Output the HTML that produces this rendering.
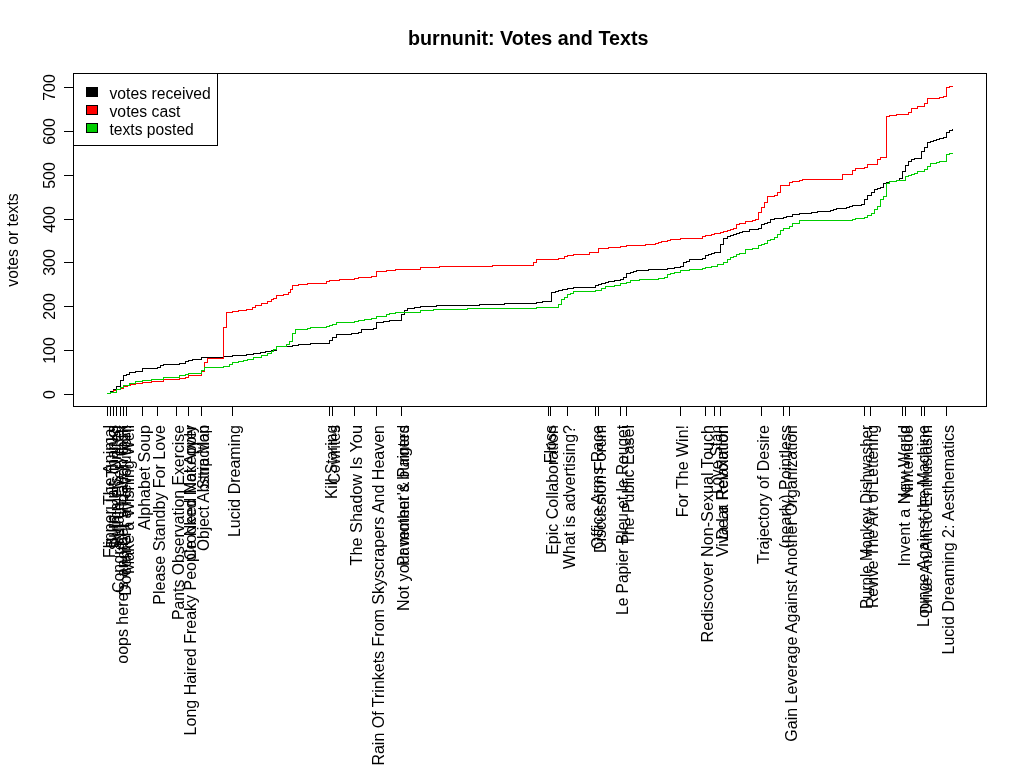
<!DOCTYPE html>
<html><head><meta charset="utf-8"><title>burnunit: Votes and Texts</title>
<style>
html,body{margin:0;padding:0;background:#fff;}
body{width:1024px;height:768px;overflow:hidden;}
svg{display:block;font-family:"Liberation Sans",Arial,sans-serif;}
.ax{stroke:#000;stroke-width:1;fill:none;shape-rendering:crispEdges;}
.ln{stroke-width:1;fill:none;shape-rendering:crispEdges;}
text{fill:#000;font-size:16px;}
</style></head><body>
<svg width="1024" height="768" viewBox="0 0 1024 768">
<rect x="0" y="0" width="1024" height="768" fill="#fff"/>
<text x="408" y="45" textLength="240.5" lengthAdjust="spacingAndGlyphs" style="font-size:19.4px;font-weight:bold">burnunit: Votes and Texts</text>
<text transform="translate(18,240) rotate(-90)" text-anchor="middle" textLength="93.3" lengthAdjust="spacingAndGlyphs">votes or texts</text>
<path class="ln" stroke="#000000" d="M107,393.5H110.5V391.5H113.5V389.5H116.5V386.5H120.5V380.5H123.5V375.5H126.5V374.5H129.5V372.5H135.5V371.5H142.5V368.5H157.5V367.5H160.5V365.5H163.5V364.5H179.5V363.5H185.5V361.5H188.5V360.5H192.5V359.5H201.5V357.5H223.5V356.5H232.5V355.5H246.5V354.5H253.5V353.5H260.5V352.5H265.5V351.5H271.5V350.5H276.5V346.5H292.5V345.5H298.5V344.5H310.5V343.5H329.5V340.5H332.5V337.5H336.5V334.5H351.5V333.5H358.5V332.5H361.5V329.5H373.5V328.5H376.5V322.5H383.5V321.5H389.5V320.5H401.5V314.5H404.5V310.5H407.5V308.5H414.5V307.5H420.5V306.5H436.5V305.5H479.5V304.5H504.5V303.5H536.5V302.5H542.5V301.5H551.5V292.5H555.5V291.5H558.5V290.5H562.5V289.5H567.5V288.5H573.5V287.5H595.5V285.5H598.5V284.5H601.5V283.5H605.5V282.5H608.5V281.5H614.5V280.5H620.5V279.5H623.5V277.5H626.5V273.5H630.5V272.5H633.5V271.5H636.5V270.5H648.5V269.5H667.5V268.5H674.5V267.5H680.5V266.5H683.5V262.5H686.5V261.5H689.5V259.5H702.5V258.5H705.5V255.5H708.5V254.5H711.5V253.5H714.5V252.5H720.5V244.5H723.5V238.5H727.5V236.5H730.5V235.5H733.5V234.5H736.5V233.5H739.5V232.5H742.5V231.5H749.5V229.5H758.5V228.5H761.5V224.5H764.5V223.5H767.5V222.5H770.5V219.5H774.5V218.5H783.5V217.5H786.5V216.5H792.5V214.5H799.5V213.5H811.5V212.5H817.5V211.5H830.5V210.5H833.5V209.5H836.5V208.5H846.5V207.5H849.5V206.5H852.5V205.5H861.5V204.5H864.5V199.5H867.5V195.5H871.5V192.5H874.5V189.5H877.5V188.5H880.5V187.5H883.5V183.5H886.5V182.5H889.5V181.5H896.5V180.5H899.5V178.5H902.5V171.5H905.5V165.5H908.5V161.5H911.5V159.5H914.5V158.5H921.5V151.5H924.5V147.5H927.5V142.5H930.5V141.5H933.5V140.5H936.5V139.5H939.5V138.5H943.5V137.5H946.5V132.5H949.5V130.5H952.5V128.5"/>
<path class="ln" stroke="#ff0000" d="M107,393.5H110.5V392.5H113.5V390.5H116.5V389.5H120.5V388.5H123.5V386.5H127.5V385.5H130.5V384.5H135.5V383.5H142.5V382.5H151.5V381.5H163.5V379.5H179.5V378.5H185.5V377.5H188.5V375.5H201.5V371.5H204.5V362.5H207.5V358.5H223.5V327.5H226.5V312.5H232.5V311.5H238.5V310.5H246.5V309.5H252.5V307.5H255.5V305.5H261.5V303.5H267.5V301.5H271.5V299.5H273.5V298.5H276.5V295.5H283.5V294.5H288.5V292.5H290.5V289.5H292.5V285.5H298.5V284.5H307.5V283.5H326.5V281.5H329.5V280.5H339.5V279.5H354.5V278.5H358.5V277.5H371.5V276.5H376.5V271.5H386.5V270.5H395.5V269.5H420.5V267.5H439.5V266.5H492.5V265.5H533.5V262.5H536.5V259.5H558.5V258.5H564.5V256.5H567.5V255.5H573.5V254.5H589.5V252.5H598.5V248.5H608.5V247.5H620.5V246.5H626.5V245.5H645.5V244.5H655.5V243.5H658.5V242.5H661.5V241.5H667.5V240.5H670.5V239.5H680.5V238.5H702.5V236.5H705.5V235.5H711.5V234.5H714.5V233.5H720.5V232.5H723.5V231.5H727.5V230.5H730.5V229.5H733.5V228.5H736.5V224.5H739.5V223.5H745.5V221.5H752.5V220.5H755.5V219.5H758.5V212.5H761.5V207.5H764.5V202.5H767.5V196.5H774.5V195.5H777.5V192.5H780.5V185.5H789.5V182.5H792.5V181.5H799.5V180.5H802.5V179.5H842.5V174.5H852.5V170.5H855.5V168.5H864.5V167.5H867.5V164.5H877.5V159.5H880.5V157.5H886.5V116.5H889.5V115.5H896.5V114.5H908.5V112.5H911.5V108.5H917.5V106.5H924.5V103.5H927.5V98.5H939.5V97.5H943.5V96.5H946.5V87.5H949.5V86.5H952.5V86.5"/>
<path class="ln" stroke="#00cd00" d="M107,393.5H110.5V392.5H116.5V389.5H120.5V387.5H123.5V385.5H129.5V383.5H135.5V381.5H142.5V380.5H151.5V379.5H163.5V377.5H179.5V375.5H185.5V374.5H188.5V373.5H201.5V370.5H204.5V367.5H223.5V366.5H229.5V364.5H232.5V362.5H238.5V361.5H243.5V360.5H247.5V359.5H253.5V357.5H261.5V355.5H267.5V353.5H271.5V351.5H273.5V349.5H276.5V346.5H286.5V344.5H289.5V341.5H292.5V333.5H295.5V329.5H307.5V328.5H310.5V327.5H326.5V326.5H329.5V325.5H332.5V324.5H336.5V322.5H354.5V321.5H358.5V320.5H364.5V319.5H371.5V318.5H376.5V316.5H386.5V314.5H389.5V313.5H395.5V312.5H420.5V310.5H433.5V309.5H467.5V308.5H536.5V307.5H558.5V304.5H561.5V299.5H564.5V297.5H567.5V294.5H570.5V293.5H573.5V291.5H595.5V290.5H601.5V288.5H605.5V286.5H614.5V285.5H620.5V283.5H626.5V282.5H630.5V280.5H639.5V279.5H658.5V278.5H664.5V277.5H667.5V274.5H670.5V273.5H674.5V272.5H680.5V270.5H689.5V269.5H702.5V268.5H705.5V267.5H711.5V266.5H717.5V264.5H723.5V262.5H727.5V259.5H730.5V257.5H733.5V256.5H736.5V254.5H739.5V253.5H745.5V249.5H752.5V248.5H758.5V245.5H761.5V244.5H764.5V243.5H767.5V240.5H770.5V239.5H774.5V237.5H777.5V234.5H780.5V230.5H783.5V228.5H789.5V226.5H792.5V223.5H799.5V220.5H852.5V219.5H855.5V218.5H864.5V217.5H867.5V215.5H871.5V213.5H874.5V209.5H877.5V206.5H880.5V199.5H883.5V196.5H886.5V183.5H889.5V181.5H896.5V180.5H905.5V176.5H908.5V175.5H911.5V174.5H914.5V173.5H917.5V171.5H924.5V169.5H927.5V166.5H930.5V163.5H936.5V162.5H939.5V161.5H946.5V154.5H949.5V153.5H952.5V153.5"/>
<rect class="ax" x="73.5" y="73.5" width="913" height="333"/>
<path class="ax" d="M64,394.5 H73.5M64,350.5 H73.5M64,306.5 H73.5M64,262.5 H73.5M64,219.5 H73.5M64,175.5 H73.5M64,131.5 H73.5M64,87.5 H73.5"/>
<text transform="translate(54.5,394.5) rotate(-90)" text-anchor="middle">0</text>
<text transform="translate(54.5,350.5) rotate(-90)" text-anchor="middle">100</text>
<text transform="translate(54.5,306.5) rotate(-90)" text-anchor="middle">200</text>
<text transform="translate(54.5,262.5) rotate(-90)" text-anchor="middle">300</text>
<text transform="translate(54.5,219.5) rotate(-90)" text-anchor="middle">400</text>
<text transform="translate(54.5,175.5) rotate(-90)" text-anchor="middle">500</text>
<text transform="translate(54.5,131.5) rotate(-90)" text-anchor="middle">600</text>
<text transform="translate(54.5,87.5) rotate(-90)" text-anchor="middle">700</text>
<path class="ax" d="M107.5,406.5 V416M110.5,406.5 V416M113.5,406.5 V416M116.5,406.5 V416M120.5,406.5 V416M123.5,406.5 V416M126.5,406.5 V416M142.5,406.5 V416M157.5,406.5 V416M176.5,406.5 V416M188.5,406.5 V416M201.5,406.5 V416M232.5,406.5 V416M329.5,406.5 V416M332.5,406.5 V416M354.5,406.5 V416M376.5,406.5 V416M401.5,406.5 V416M548.5,406.5 V416M550.5,406.5 V416M567.5,406.5 V416M595.5,406.5 V416M598.5,406.5 V416M620.5,406.5 V416M626.5,406.5 V416M680.5,406.5 V416M705.5,406.5 V416M714.5,406.5 V416M720.5,406.5 V416M761.5,406.5 V416M783.5,406.5 V416M789.5,406.5 V416M864.5,406.5 V416M870.5,406.5 V416M902.5,406.5 V416M905.5,406.5 V416M921.5,406.5 V416M924.5,406.5 V416M946.5,406.5 V416"/>
<text transform="translate(114.5,425) rotate(-90)" text-anchor="end">Flipper The Animal</text>
<text transform="translate(117.5,425) rotate(-90)" text-anchor="end">Burn Unit Thanks</text>
<text transform="translate(120.5,425) rotate(-90)" text-anchor="end">Swimmers United</text>
<text transform="translate(123.5,425) rotate(-90)" text-anchor="end">Congratulate Everyone!</text>
<text transform="translate(133.5,425) rotate(-90)" text-anchor="end">Make a Wishing Well</text>
<text transform="translate(127.5,425) rotate(-90)" text-anchor="end">oops here's another situation task</text>
<text transform="translate(130.5,425) rotate(-90)" text-anchor="end">Document a Revolution!</text>
<text transform="translate(149.5,425) rotate(-90)" text-anchor="end">Alphabet Soup</text>
<text transform="translate(164.5,425) rotate(-90)" text-anchor="end">Please Standby For Love</text>
<text transform="translate(183.5,425) rotate(-90)" text-anchor="end" textLength="195" lengthAdjust="spacingAndGlyphs">Pants Observation Exercise</text>
<text transform="translate(195.5,425) rotate(-90)" text-anchor="end">Long Haired Freaky People Need Not Apply</text>
<text transform="translate(195.5,425) rotate(-90)" text-anchor="end">Crooked Makeover</text>
<text transform="translate(208.5,425) rotate(-90)" text-anchor="end" textLength="126" lengthAdjust="spacingAndGlyphs">Object Abstraction</text>
<text transform="translate(208.5,425) rotate(-90)" text-anchor="end" textLength="64" lengthAdjust="spacingAndGlyphs">Strip Map</text>
<text transform="translate(239.5,425) rotate(-90)" text-anchor="end">Lucid Dreaming</text>
<text transform="translate(336.5,425) rotate(-90)" text-anchor="end" textLength="74" lengthAdjust="spacingAndGlyphs">Kill Staring</text>
<text transform="translate(339.5,425) rotate(-90)" text-anchor="end" textLength="59" lengthAdjust="spacingAndGlyphs">Cowrites</text>
<text transform="translate(361.5,425) rotate(-90)" text-anchor="end" textLength="140.5" lengthAdjust="spacingAndGlyphs">The Shadow Is You</text>
<text transform="translate(383.5,425) rotate(-90)" text-anchor="end">Rain Of Trinkets From Skyscrapers And Heaven</text>
<text transform="translate(408.5,425) rotate(-90)" text-anchor="end" textLength="186" lengthAdjust="spacingAndGlyphs">Not your mother's burgers</text>
<text transform="translate(408.5,425) rotate(-90)" text-anchor="end" textLength="141" lengthAdjust="spacingAndGlyphs">Pavement &amp; Painted</text>
<text transform="translate(557.5,425) rotate(-90)" text-anchor="end">Epic Collaboration</text>
<text transform="translate(555.5,425) rotate(-90)" text-anchor="end">Floss</text>
<text transform="translate(574.5,425) rotate(-90)" text-anchor="end">What is advertising?</text>
<text transform="translate(602.5,425) rotate(-90)" text-anchor="end">Office Arms Race</text>
<text transform="translate(605.5,425) rotate(-90)" text-anchor="end">Discussion Forum</text>
<text transform="translate(627.5,425) rotate(-90)" text-anchor="end" textLength="190" lengthAdjust="spacingAndGlyphs">Le Papier Bleu et le Rouget</text>
<text transform="translate(633.5,425) rotate(-90)" text-anchor="end">The Public Easel</text>
<text transform="translate(687.5,425) rotate(-90)" text-anchor="end">For The Win!</text>
<text transform="translate(712.5,425) rotate(-90)" text-anchor="end" textLength="217.5" lengthAdjust="spacingAndGlyphs">Rediscover Non-Sexual Touch</text>
<text transform="translate(727.5,425) rotate(-90)" text-anchor="end" textLength="132" lengthAdjust="spacingAndGlyphs">Viva La Revolution</text>
<text transform="translate(727.5,425) rotate(-90)" text-anchor="end">Dear Relaxation</text>
<text transform="translate(721.5,425) rotate(-90)" text-anchor="end" textLength="69" lengthAdjust="spacingAndGlyphs">Love Stan</text>
<text transform="translate(768.5,425) rotate(-90)" text-anchor="end">Trajectory of Desire</text>
<text transform="translate(790.5,425) rotate(-90)" text-anchor="end">(nearly) Pointless</text>
<text transform="translate(796.5,425) rotate(-90)" text-anchor="end">Gain Leverage Against Another Organization</text>
<text transform="translate(871.5,425) rotate(-90)" text-anchor="end" textLength="184" lengthAdjust="spacingAndGlyphs">Purple Monkey Dishwasher</text>
<text transform="translate(877.5,425) rotate(-90)" text-anchor="end" textLength="183" lengthAdjust="spacingAndGlyphs">Revive The Art of Lettering</text>
<text transform="translate(909.5,425) rotate(-90)" text-anchor="end" textLength="141.5" lengthAdjust="spacingAndGlyphs">Invent a New World</text>
<text transform="translate(912.5,425) rotate(-90)" text-anchor="end">Nintendo8</text>
<text transform="translate(928.5,425) rotate(-90)" text-anchor="end">Lounge Against the Machine</text>
<text transform="translate(931.5,425) rotate(-90)" text-anchor="end" textLength="189" lengthAdjust="spacingAndGlyphs">Drive An Ant to Enthusiasm</text>
<text transform="translate(953.5,425) rotate(-90)" text-anchor="end">Lucid Dreaming 2: Aesthematics</text>
<rect class="ax" x="73.5" y="73.5" width="144" height="72" fill="#fff" style="fill:#fff"/>
<rect x="86.5" y="87.5" width="11" height="9" fill="#000000" stroke="#000" stroke-width="1" shape-rendering="crispEdges"/>
<text x="109.5" y="98.5" textLength="101.3" lengthAdjust="spacingAndGlyphs">votes received</text>
<rect x="86.5" y="105.5" width="11" height="9" fill="#ff0000" stroke="#000" stroke-width="1" shape-rendering="crispEdges"/>
<text x="109.5" y="116.5" textLength="70.9" lengthAdjust="spacingAndGlyphs">votes cast</text>
<rect x="86.5" y="123.5" width="11" height="9" fill="#00cd00" stroke="#000" stroke-width="1" shape-rendering="crispEdges"/>
<text x="109.5" y="134.5" textLength="84.3" lengthAdjust="spacingAndGlyphs">texts posted</text>
</svg>
</body></html>
